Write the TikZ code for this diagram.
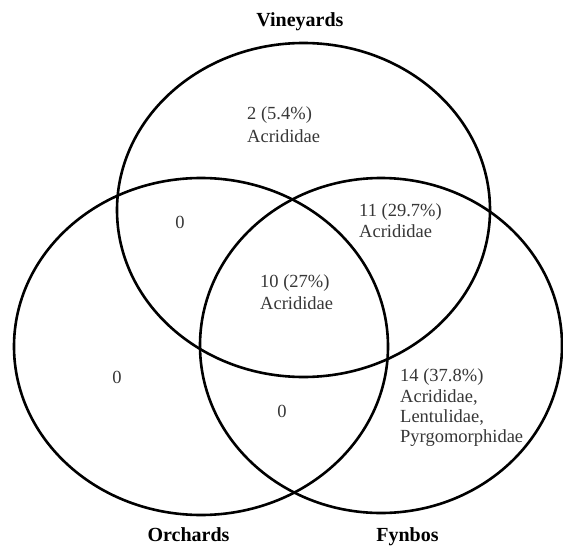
\documentclass[tikz,border=0pt]{standalone}
\usepackage{fontspec}
\setmainfont{Liberation Serif}
\definecolor{labelgray}{RGB}{55,55,55}
\begin{document}
\begin{tikzpicture}[x=1pt,y=-1pt,
  setline/.style={line width=2.6pt, black},
  regionlabel/.style={font=\fontsize{18.5}{21}\selectfont, text=labelgray, inner sep=0pt, anchor=west},
  zerolabel/.style={font=\fontsize{18.5}{21}\selectfont, text=labelgray, inner sep=0pt, anchor=center},
  settitle/.style={font=\fontsize{20}{24}\selectfont\bfseries, text=black, inner sep=0pt, anchor=base}]
\useasboundingbox (0,0) rectangle (563,546);
\fill[white] (0,0) rectangle (563,546);
% sets
\draw[setline] (303.5,210) ellipse [x radius=186.5pt, y radius=167pt];
\draw[setline] (201,346.5) ellipse [x radius=187pt, y radius=168.5pt];
\draw[setline] (381,345.5) ellipse [x radius=181pt, y radius=167.5pt];
% titles
\node[settitle] (tv) at (300,27) {Vineyards};
\node[settitle] (to) at (188.5,541) {Orchards};
\node[settitle] (tf) at (407.5,541) {Fynbos};
% region labels
\node[regionlabel] (v1) at (247,115) {2 (5.4\%)};
\node[regionlabel] (v2) at (247,136) {Acrididae};
\node[zerolabel] (vo) at (180,222) {0};
\node[regionlabel] (vf1) at (359,212) {11 (29.7\%)};
\node[regionlabel] (vf2) at (359,231) {Acrididae};
\node[regionlabel] (all1) at (260,283) {10 (27\%)};
\node[regionlabel] (all2) at (260,303) {Acrididae};
\node[zerolabel] (o) at (117,377) {0};
\node[zerolabel] (of) at (282,411) {0};
\node[regionlabel] (f1) at (400,377) {14 (37.8\%)};
\node[regionlabel] (f2) at (400,397.5) {Acrididae,};
\node[regionlabel] (f3) at (400,418) {Lentulidae,};
\node[regionlabel] (f4) at (400,438) {Pyrgomorphidae};
\end{tikzpicture}
\end{document}
